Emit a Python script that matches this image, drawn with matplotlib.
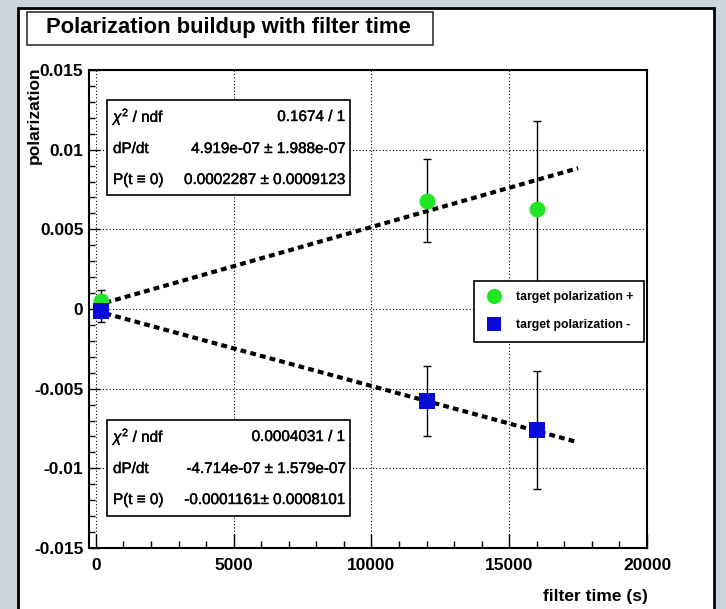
import matplotlib
matplotlib.use("Agg")
import matplotlib.pyplot as plt
import matplotlib.patheffects as pe
from matplotlib.patches import Rectangle
from matplotlib.ticker import MultipleLocator, FixedLocator, FixedFormatter

plt.rcParams['font.family'] = ['Liberation Sans', 'DejaVu Sans']
plt.rcParams['mathtext.fontset'] = 'custom'
plt.rcParams['mathtext.rm'] = 'Liberation Sans'
plt.rcParams['mathtext.it'] = 'Liberation Sans:italic'

# ---- data ----
time_plus = [200, 12000, 16000]
pol_plus = [0.0005, 0.0068, 0.0063]
err_plus = [0.0007, 0.0026, 0.0055]

time_minus = [200, 12000, 16000]
pol_minus = [-0.0001, -0.0058, -0.0076]
err_minus = [0.0007, 0.0022, 0.0037]

fit_plus_slope, fit_plus_int = 4.919e-07, 0.0002287
fit_minus_slope, fit_minus_int = -4.714e-07, -0.0001161
fit_range = [0, 17500]

stats_plus = [("$\\chi^2$ / ndf", "0.1674 / 1"),
              ("dP/dt", "4.919e-07 \u00b1 1.988e-07"),
              ("P(t \u2261 0)", "0.0002287 \u00b1 0.0009123")]
stats_minus = [("$\\chi^2$ / ndf", "0.0004031 / 1"),
               ("dP/dt", "-4.714e-07 \u00b1 1.579e-07"),
               ("P(t \u2261 0)", "-0.0001161\u00b1 0.0008101")]

xticks = [0, 5000, 10000, 15000, 20000]
xticklabels = ["0", "5000", "10000", "15000", "20000"]
yticks = [-0.015, -0.01, -0.005, 0, 0.005, 0.01, 0.015]
yticklabels = ["-0.015", "-0.01", "-0.005", "0", "0.005", "0.01", "0.015"]

W, H = 726, 609
fig = plt.figure(figsize=(W/100, H/100), dpi=100)
fig.patch.set_facecolor('#c9d4dc')

def fx(px):
    return px / W

def fy(py):
    return 1 - py / H

# white panel
fig.add_artist(Rectangle((fx(18), fy(640)), fx(714) - fx(18), fy(8) - fy(640),
                         transform=fig.transFigure, facecolor='white',
                         edgecolor='black', linewidth=2, zorder=-5))

ax = fig.add_axes([fx(89), fy(548), fx(647) - fx(89), fy(70) - fy(548)])
ax.set_facecolor('white')
ax.set_xlim(-250, 20000)
ax.set_ylim(-0.015, 0.015)

ax.xaxis.set_major_locator(FixedLocator(xticks))
ax.xaxis.set_major_formatter(FixedFormatter(xticklabels))
ax.xaxis.set_minor_locator(MultipleLocator(1000))
ax.yaxis.set_major_locator(FixedLocator(yticks))
ax.yaxis.set_major_formatter(FixedFormatter(yticklabels))
ax.yaxis.set_minor_locator(MultipleLocator(0.001))

ax.tick_params(which='both', direction='in', top=False, right=False, colors='black')
ax.tick_params(axis='x', which='major', length=10, width=1, pad=7, labelsize=12.5)
ax.tick_params(axis='x', which='minor', length=5, width=1)
ax.tick_params(axis='y', which='major', length=8, width=1, pad=4, labelsize=12.5)
ax.tick_params(axis='y', which='minor', length=4, width=1)
for lab in ax.get_xticklabels() + ax.get_yticklabels():
    lab.set_fontweight('bold')
for s in ax.spines.values():
    s.set_linewidth(1.5)

ax.grid(True, which='major', color='black', linestyle=(0, (1, 2)), linewidth=0.8)

# fit lines
ax.plot(fit_range, [fit_plus_int + fit_plus_slope * t for t in fit_range],
        color='black', linewidth=3, linestyle=(0, (1.4, 1.0)),
        dash_capstyle='butt', zorder=3)
ax.plot(fit_range, [fit_minus_int + fit_minus_slope * t for t in fit_range],
        color='black', linewidth=3, linestyle=(0, (1.4, 1.0)),
        dash_capstyle='butt', zorder=3)

# data
ax.errorbar(time_plus, pol_plus, yerr=err_plus, fmt='none', ecolor='black',
            elinewidth=1, capsize=3, capthick=1, zorder=4)
ax.errorbar(time_minus, pol_minus, yerr=err_minus, fmt='none', ecolor='black',
            elinewidth=1, capsize=3, capthick=1, zorder=4)
hp, = ax.plot(time_plus, pol_plus, linestyle='none', marker='o', markersize=11.5,
              color='#22e622', markeredgewidth=0, zorder=5,
              label='target polarization +')
hm, = ax.plot(time_minus, pol_minus, linestyle='none', marker='s', markersize=11,
              color='#0a0ad8', markeredgewidth=0, zorder=5,
              label='target polarization -')

leg = ax.legend(handles=[hp, hm], loc='upper left',
                bbox_to_anchor=(fx(474), fy(281)), bbox_transform=fig.transFigure,
                borderaxespad=0, frameon=True, fancybox=False, framealpha=1,
                edgecolor='black', prop={'weight': 'bold', 'size': 8.8},
                borderpad=0.85, handlelength=1.65, handletextpad=0.95,
                labelspacing=1.3, markerscale=0.95)
leg.get_frame().set_linewidth(1.2)
leg.set_zorder(10)

# stats boxes
thick = [pe.withStroke(linewidth=0.3, foreground='black')]

def stats_box(x0, y0, x1, y1, rows, ys):
    fig.add_artist(Rectangle((fx(x0), fy(y1)), fx(x1) - fx(x0), fy(y0) - fy(y1),
                             transform=fig.transFigure, facecolor='white',
                             edgecolor='black', linewidth=1.2, zorder=8))
    for (lab, val), yy in zip(rows, ys):
        fig.text(fx(x0 + 6), fy(yy), lab, ha='left', va='center', fontsize=11,
                 zorder=9, path_effects=thick)
        fig.text(fx(x1 - 5), fy(yy), val, ha='right', va='center', fontsize=11,
                 zorder=9, path_effects=thick)

stats_box(107, 100, 350, 195, stats_plus, [117, 149, 180])
stats_box(107, 420, 350, 516, stats_minus, [437, 469, 500])

# title box
fig.add_artist(Rectangle((fx(27), fy(45)), fx(433) - fx(27), fy(12) - fy(45),
                         transform=fig.transFigure, facecolor='white',
                         edgecolor='#333333', linewidth=1.2, zorder=8))
fig.text(fx(228), fy(28), "Polarization buildup with filter time", ha='center',
         va='center', fontsize=15.8, fontweight='bold', zorder=9)

# axis titles
fig.text(fx(648), fy(597), "filter time (s)", ha='right', va='center',
         fontsize=12.5, fontweight='bold')
fig.text(fx(34), fy(66), "polarization", ha='center', va='top', rotation=90,
         fontsize=12.5, fontweight='bold')

fig.savefig("out.png", dpi=100, facecolor=fig.get_facecolor())
